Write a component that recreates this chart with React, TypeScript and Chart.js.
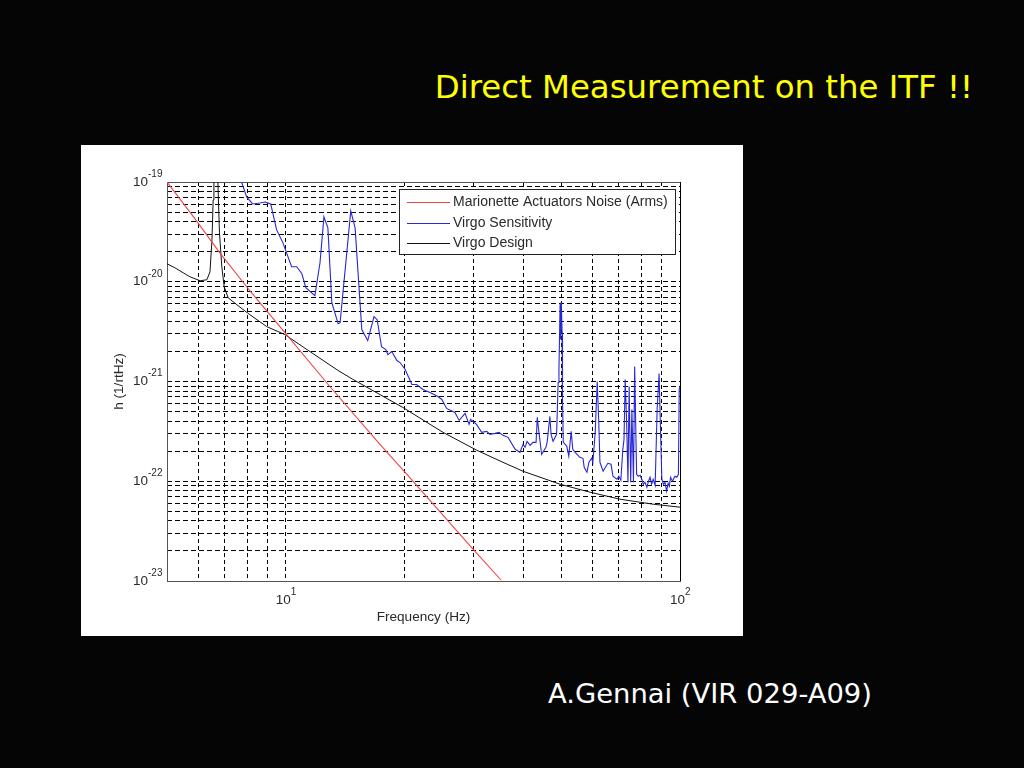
import React, { useRef, useEffect } from 'react';
import { Chart, registerables } from 'chart.js';

Chart.register(...registerables);

const legendLabels = ['Marionette Actuators Noise (Arms)', 'Virgo Sensitivity', 'Virgo Design'];

// all curves, as log10(Hz) and log10(1/rtHz)
const redLogF = [0.699, 0.77, 0.833, 0.909, 0.998, 1.112, 1.239, 1.303, 1.475, 1.546];
const redLogH = [-19, -19.37, -19.71, -20.09, -20.51, -21.05, -21.63, -21.91, -22.68, -22.99];

const blackLogF = [
    0.699, 0.719, 0.74, 0.757, 0.783, 0.8, 0.808, 0.813, 0.816, 0.818, 0.823, 0.828, 0.832, 0.838, 0.844, 0.854, 0.876,
    0.909, 0.952, 0.998, 1.069, 1.133, 1.171, 1.297, 1.399, 1.485, 1.551, 1.602, 1.696, 1.772, 1.848, 1.932, 2,
];
const blackLogH = [
    -19.82, -19.86, -19.91, -19.95, -19.99, -19.98, -19.9, -19.58, -19.18, -19, -18.6, -19, -19.51, -19.85, -20.05,
    -20.16, -20.23, -20.33, -20.45, -20.53, -20.72, -20.89, -20.98, -21.26, -21.51, -21.69, -21.81, -21.9, -22.03,
    -22.11, -22.18, -22.23, -22.26,
];

const blueLogF = [
    0.888, 0.901, 0.916, 0.935, 0.948, 0.962, 0.977, 0.993, 1.015, 1.028, 1.041, 1.051, 1.074, 1.087, 1.097, 1.107,
    1.117, 1.133, 1.138, 1.165, 1.176, 1.193, 1.208, 1.224, 1.232, 1.243, 1.254, 1.259, 1.269, 1.282, 1.29, 1.303,
    1.32, 1.332, 1.348, 1.366, 1.386, 1.396, 1.408, 1.429, 1.44, 1.455, 1.465, 1.469, 1.484, 1.497, 1.51, 1.518, 1.531,
    1.541, 1.551, 1.564, 1.582, 1.594, 1.602, 1.607, 1.612, 1.62, 1.627, 1.635, 1.638, 1.642, 1.649, 1.66, 1.663, 1.67,
    1.673, 1.678, 1.687, 1.691, 1.693, 1.696, 1.697, 1.699, 1.701, 1.702, 1.704, 1.713, 1.718, 1.724, 1.728, 1.734,
    1.746, 1.754, 1.757, 1.764, 1.769, 1.776, 1.779, 1.785, 1.79, 1.794, 1.797, 1.805, 1.817, 1.825, 1.83, 1.84, 1.845,
    1.85, 1.855, 1.858, 1.861, 1.865, 1.868, 1.871, 1.875, 1.878, 1.882, 1.885, 1.89, 1.894, 1.899, 1.903, 1.907, 1.911,
    1.916, 1.92, 1.924, 1.928, 1.932, 1.937, 1.942, 1.947, 1.951, 1.954, 1.958, 1.962, 1.966, 1.97, 1.973, 1.976, 1.981,
    1.987, 1.992, 1.996, 1.998, 2,
];
const blueLogH = [
    -19, -19.15, -19.22, -19.21, -19.2, -19.22, -19.48, -19.61, -19.85, -19.85, -19.92, -20.06, -20.14, -19.81, -19.35,
    -19.46, -20.21, -20.42, -20.41, -19.29, -19.46, -20.48, -20.59, -20.35, -20.38, -20.65, -20.68, -20.73, -20.7,
    -20.79, -20.81, -20.88, -21.03, -21.03, -21.08, -21.11, -21.15, -21.18, -21.27, -21.31, -21.39, -21.32, -21.43,
    -21.38, -21.43, -21.51, -21.5, -21.53, -21.52, -21.51, -21.54, -21.56, -21.68, -21.71, -21.63, -21.66, -21.6,
    -21.64, -21.61, -21.61, -21.36, -21.5, -21.73, -21.66, -21.61, -21.35, -21.53, -21.6, -21.53, -21.01, -20.88,
    -20.21, -20.58, -20.21, -20.51, -21.18, -21.61, -21.65, -21.75, -21.5, -21.68, -21.71, -21.76, -21.77, -21.86,
    -21.91, -21.81, -21.77, -21.81, -21.51, -21, -21.41, -21.81, -21.9, -21.82, -21.83, -21.95, -21.98, -21.95, -21.99,
    -21.68, -21.58, -20.98, -21.45, -22.01, -21.05, -22.01, -21.28, -22.01, -20.85, -21.93, -21.95, -21.94, -21.98,
    -22.03, -22.01, -22.06, -22, -21.96, -22.03, -21.98, -22.04, -21.28, -20.92, -21.55, -21.98, -22.03, -22.01, -22.1,
    -22.02, -22.05, -21.96, -22, -21.95, -21.96, -21.93, -21.08, -21.05,
];

const xGridHz = [5, 6, 7, 8, 9, 10, 20, 30, 40, 50, 60, 70, 80, 90, 100];
const yMantissas = [1, 2, 3, 4, 5, 6, 7, 8, 9];
const yDecades = [-23, -22, -21, -20];
const xLabelExponents = [1, 2];
const yLabelExponents = [-19, -20, -21, -22, -23];

const toPoints = (logF: number[], logH: number[]) =>
    logF.map((f, i) => ({ x: Math.pow(10, f), y: Math.pow(10, logH[i]) }));

const yGrid: number[] = [1e-19];
yDecades.forEach(d => yMantissas.forEach(m => yGrid.push(Number(m + 'e' + d))));

const TEXT = '#2a2a2a';

const decorations = {
    id: 'decorations',
    beforeDatasetsDraw(chart: any) {
        const { ctx, chartArea: a } = chart;
        ctx.save();
        ctx.lineWidth = 1;
        ctx.strokeStyle = '#555';
        ctx.strokeRect(a.left + 0.5, a.top + 0.5, a.right - a.left, a.bottom - a.top);
        ctx.strokeStyle = '#000';
        ctx.beginPath();
        ctx.moveTo(a.right + 0.5, a.top);
        ctx.lineTo(a.right + 0.5, a.bottom);
        ctx.stroke();
        ctx.restore();
    },
    afterDatasetsDraw(chart: any) {
        const { ctx, chartArea: a, scales } = chart;
        ctx.save();
        // power-of-ten tick labels
        ctx.fillStyle = TEXT;
        ctx.textBaseline = 'middle';
        const power = (x: number, y: number, exp: number) => {
            ctx.textAlign = 'right';
            ctx.font = '13.5px "Liberation Sans"';
            ctx.fillText('10', x, y);
            ctx.textAlign = 'left';
            ctx.font = '10px "Liberation Sans"';
            ctx.fillText(String(exp), x, y - 8);
        };
        yLabelExponents.forEach(e => power(a.left - 19, scales.y.getPixelForValue(Number('1e' + e)), e));
        xLabelExponents.forEach(e => power(scales.x.getPixelForValue(Math.pow(10, e)) + 5, a.bottom + 19, e));

        // legend box
        const bx = a.left + 232;
        const by = a.top + 7;
        ctx.fillStyle = '#fff';
        ctx.fillRect(bx, by, 276, 65);
        ctx.strokeStyle = '#222';
        ctx.lineWidth = 1;
        ctx.strokeRect(bx + 0.5, by + 0.5, 276, 65);
        chart.data.datasets.forEach((ds: any, i: number) => {
            const ly = Math.round(by + 13 + i * 20.5);
            ctx.strokeStyle = ds.borderColor;
            ctx.beginPath();
            ctx.moveTo(bx + 8, ly + 0.5);
            ctx.lineTo(bx + 51, ly + 0.5);
            ctx.stroke();
            ctx.fillStyle = TEXT;
            ctx.textAlign = 'left';
            ctx.font = '14px "Liberation Sans"';
            ctx.fillText(ds.label, bx + 54, ly + 0.5);
        });
        ctx.restore();
    },
};

const PlotChart: React.FC = () => {
    const chartRef = useRef<HTMLCanvasElement>(null);

    useEffect(() => {
        const ctx = chartRef.current?.getContext('2d');
        if (!ctx) return;
        const grid = { color: '#000', lineWidth: 1, drawTicks: false };
        const chart = new Chart(ctx, {
            type: 'line',
            data: {
                datasets: [
                    { label: legendLabels[0], data: toPoints(redLogF, redLogH), borderColor: '#f04444', borderWidth: 1.1 },
                    { label: legendLabels[1], data: toPoints(blueLogF, blueLogH), borderColor: '#2828d8', borderWidth: 1.1 },
                    { label: legendLabels[2], data: toPoints(blackLogF, blackLogH), borderColor: '#111', borderWidth: 1 },
                ],
            },
            options: {
                responsive: false,
                animation: false,
                elements: { point: { radius: 0 }, line: { tension: 0 } },
                layout: { padding: { top: 37, right: 63, left: 0, bottom: 0 } },
                plugins: { legend: { display: false }, tooltip: { enabled: false } },
                scales: {
                    x: {
                        type: 'logarithmic',
                        min: 5,
                        max: 100,
                        grid,
                        border: { display: false, dash: [4, 3] },
                        ticks: { display: false },
                        title: {
                            display: true,
                            text: 'Frequency (Hz)',
                            color: TEXT,
                            font: { family: 'Liberation Sans', size: 13.6 },
                            padding: { top: 0, bottom: 11 },
                        },
                        afterBuildTicks: (s: any) => {
                            s.ticks = xGridHz.map(value => ({ value }));
                        },
                        afterFit: (s: any) => {
                            s.height = 55;
                        },
                    },
                    y: {
                        type: 'logarithmic',
                        min: 1e-23,
                        max: 1e-19,
                        grid,
                        border: { display: false, dash: [5, 3] },
                        ticks: { display: false },
                        title: {
                            display: true,
                            text: 'h (1/rtHz)',
                            color: TEXT,
                            font: { family: 'Liberation Sans', size: 13.6 },
                            padding: { top: 30, bottom: 0 },
                        },
                        afterBuildTicks: (s: any) => {
                            s.ticks = yGrid.map(value => ({ value }));
                        },
                        afterFit: (s: any) => {
                            s.width = 86;
                        },
                    },
                },
            },
            plugins: [decorations],
        } as any);
        return () => chart.destroy();
    }, []);

    return <canvas ref={chartRef} width={662} height={491} style={{ display: 'block' }} />;
};

export default function App() {
    return (
        <div style={{ position: 'fixed', left: 0, top: 0, width: 1024, height: 768, background: '#050505', overflow: 'hidden' }}>
            <div
                style={{
                    position: 'absolute', right: 51, top: 66, color: '#ffff00', whiteSpace: 'nowrap',
                    font: '32.4px "DejaVu Sans"', lineHeight: '42px',
                }}
            >
                Direct Measurement on the ITF !!
            </div>
            <div style={{ position: 'absolute', left: 81, top: 145, width: 662, height: 491, background: '#fff' }}>
                <PlotChart />
            </div>
            <div
                style={{
                    position: 'absolute', left: 548, top: 677, color: '#fff', whiteSpace: 'nowrap',
                    font: '27.4px "DejaVu Sans"', lineHeight: '34px',
                }}
            >
                A.Gennai (VIR 029-A09)
            </div>
        </div>
    );
}
